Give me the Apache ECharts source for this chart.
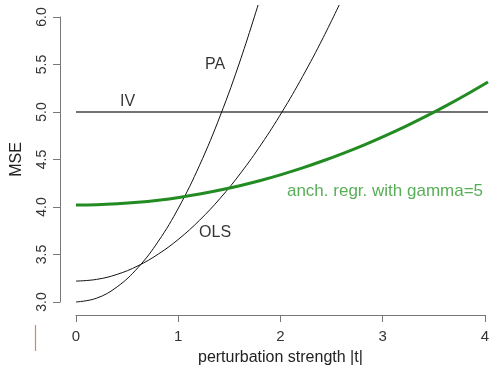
<!DOCTYPE html>
<html>
<head>
<meta charset="utf-8">
<script src="https://cdn.jsdelivr.net/npm/echarts@6/dist/echarts.min.js"></script>
<style>
  html, body { margin: 0; padding: 0; background: #fff; }
  #mse-chart { width: 492px; height: 372px; }
</style>
</head>
<body>
<div id="mse-chart"></div>
<script>
// perturbation strength |t|
const tVals = [0, 0.2, 0.4, 0.6, 0.8, 1.0, 1.2, 1.4, 1.6, 1.8, 2.0, 2.2, 2.4, 2.6,
  2.8, 3.0, 3.2, 3.4, 3.6, 3.8, 4.0];
// MSE
const paVals = [3.00, 3.04, 3.16, 3.36, 3.64, 4.00, 4.44, 4.96, 5.56, 6.24];
const olsVals = [3.22, 3.238, 3.291, 3.38, 3.505, 3.665, 3.861, 4.092, 4.359, 4.662,
  5.00, 5.374, 5.783, 6.228];
const anchVals = [4.02, 4.023, 4.033, 4.049, 4.072, 4.101, 4.137, 4.179, 4.227, 4.282,
  4.344, 4.412, 4.487, 4.568, 4.655, 4.749, 4.849, 4.956, 5.07, 5.19, 5.316];
const ivT = [0, 4];
const ivVals = [5.0, 5.0];
// text labels in the plot (t, MSE, text)
const annotations = [
  [1.35, 5.50, "PA"],
  [0.50, 5.11, "IV"],
  [1.35, 3.73, "OLS"],
  [3.00, 4.17, "anch. regr. with gamma=5"]
];

const pairs = (xs, ys) => ys.map((y, i) => [xs[i], y]);

const chart = echarts.init(document.getElementById("mse-chart"));
const font = "Liberation Sans, Arial, sans-serif";

let option = {
  animation: false,
  textStyle: { fontFamily: font },
  grid: [
    { left: 76, top: 5.6, width: 412, height: 307.8 },   // data area
    { left: 76, top: 300, width: 412, height: 15 },      // x axis
    { left: 60, top: 17, width: 20, height: 285 }        // y axis
  ],
  xAxis: [
    { gridIndex: 0, type: "value", min: 0, max: 4, show: false },
    {
      gridIndex: 1, type: "value", min: 0, max: 4, interval: 1,
      axisLine: { show: true, lineStyle: { color: "#777", width: 1 } },
      axisTick: { show: true, length: 7, lineStyle: { color: "#777" } },
      axisLabel: { fontSize: 15, color: "#333", margin: 14, fontFamily: font },
      splitLine: { show: false },
      name: "perturbation strength |t|",
      nameLocation: "middle",
      nameGap: 35,
      nameTextStyle: { fontSize: 16, color: "#222", fontFamily: font }
    },
    { gridIndex: 2, type: "value", show: false }
  ],
  yAxis: [
    { gridIndex: 0, type: "value", min: 2.88, max: 6.12, show: false },
    { gridIndex: 1, type: "value", show: false },
    {
      gridIndex: 2, type: "value", min: 3, max: 6, interval: 0.5,
      position: "left",
      axisLine: { show: true, lineStyle: { color: "#777", width: 1 } },
      axisTick: { show: true, length: 7, lineStyle: { color: "#777" } },
      axisLabel: {
        fontSize: 14, color: "#333", rotate: 90, margin: 11, fontFamily: font,
        formatter: v => v.toFixed(1)
      },
      splitLine: { show: false },
      name: "MSE",
      nameLocation: "middle",
      nameGap: 35,
      nameTextStyle: { fontSize: 16, color: "#222", fontFamily: font }
    }
  ],
  graphic: [
    {
      type: "line",
      shape: { x1: 35.5, y1: 325, x2: 35.5, y2: 351 },
      style: { stroke: "#e87878", lineWidth: 1.2 }
    }
  ],
  series: [
    {
      name: "IV", type: "line", xAxisIndex: 0, yAxisIndex: 0,
      data: pairs(ivT, ivVals), symbol: "none",
      lineStyle: { color: "#444", width: 1.3 }
    },
    {
      name: "PA", type: "line", xAxisIndex: 0, yAxisIndex: 0,
      data: pairs(tVals, paVals), symbol: "none", clip: true, smooth: 0.4,
      lineStyle: { color: "#111", width: 1 }
    },
    {
      name: "OLS", type: "line", xAxisIndex: 0, yAxisIndex: 0,
      data: pairs(tVals, olsVals), symbol: "none", clip: true, smooth: 0.4,
      lineStyle: { color: "#111", width: 1 }
    },
    {
      name: "anch", type: "line", xAxisIndex: 0, yAxisIndex: 0,
      data: pairs(tVals, anchVals), symbol: "none", smooth: 0.4,
      lineStyle: { color: "#228B22", width: 3 }
    },
    {
      name: "labels", type: "scatter", xAxisIndex: 0, yAxisIndex: 0,
      symbolSize: 0,
      data: annotations.map(a => ({ value: [a[0], a[1]], name: a[2] })),
      label: {
        show: true,
        position: "inside",
        fontSize: 16,
        fontFamily: font,
        color: "#000",
        formatter: p => p.name
      },
      labelLayout: { hideOverlap: false },
      silent: true
    }
  ]
};

// green colour for the anchor regression label
option.series[4].data[3].label = { color: "#2e9a2e", fontSize: 17 };

chart.setOption(option);
</script>
</body>
</html>
